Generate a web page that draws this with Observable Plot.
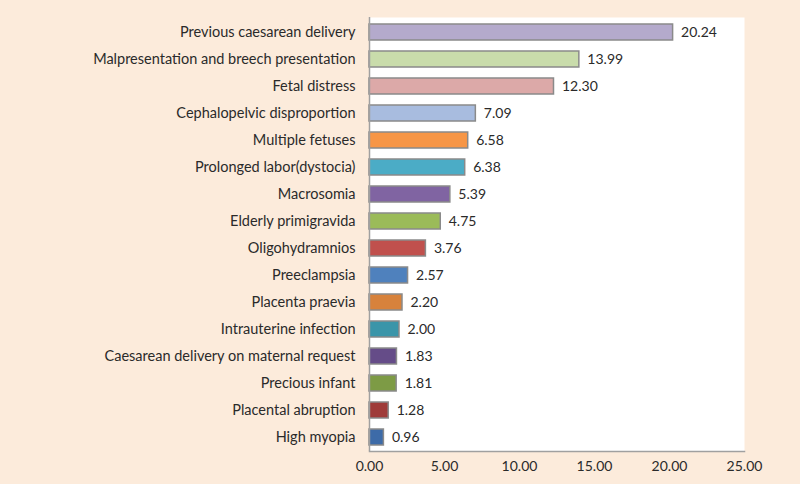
<!DOCTYPE html>
<html>
<head>
<meta charset="utf-8">
<script src="https://cdn.jsdelivr.net/npm/d3@7"></script>
<script src="https://cdn.jsdelivr.net/npm/@observablehq/plot@0.6"></script>
<style>
  html, body { margin: 0; padding: 0; background: #FCEBDB; }
  #chart svg { display: block; }
</style>
</head>
<body>
<div id="chart"></div>
<script>
const categories = [
  "Previous caesarean delivery",
  "Malpresentation and breech presentation",
  "Fetal distress",
  "Cephalopelvic disproportion",
  "Multiple fetuses",
  "Prolonged labor(dystocia)",
  "Macrosomia",
  "Elderly primigravida",
  "Oligohydramnios",
  "Preeclampsia",
  "Placenta praevia",
  "Intrauterine infection",
  "Caesarean delivery on maternal request",
  "Precious infant",
  "Placental abruption",
  "High myopia"
];
const values = [20.24, 13.99, 12.30, 7.09, 6.58, 6.38, 5.39, 4.75, 3.76, 2.57, 2.20, 2.00, 1.83, 1.81, 1.28, 0.96];
const colors = [
  "#B4AACC", "#C9DCAB", "#DCA9A8", "#A8BCDF", "#F79646", "#4BACC6", "#8064A2", "#9BBB59",
  "#C0504D", "#4F81BD", "#D7823C", "#3A95A9", "#654C88", "#7D9B45", "#9F3B39", "#3D6BA8"
];
const xTicks = [0, 5, 10, 15, 20, 25];

const data = categories.map((c, i) => ({category: c, value: values[i]}));

const chart = Plot.plot({
  width: 800,
  height: 484,
  marginLeft: 369,
  marginRight: 56,
  marginTop: 17,
  marginBottom: 33,
  style: {background: "#FCEBDB", fontFamily: "Lato, sans-serif", fontSize: "14px", color: "#2a2a2a"},
  x: {domain: [0, 25], ticks: xTicks, tickFormat: d => d.toFixed(2), tickSize: 0, tickPadding: 10, label: null},
  y: {domain: categories, paddingInner: 0.41, paddingOuter: 0.02, tickSize: 0, tickPadding: 14, label: null},
  color: {domain: categories, range: colors},
  marks: [
    Plot.frame({fill: "white", stroke: "none"}),
    Plot.barX(data, {x: "value", y: "category", fill: "category", stroke: "#8a8a8a", strokeWidth: 1.5}),
    Plot.text(data, {x: "value", y: "category", text: d => d.value.toFixed(2), textAnchor: "start", dx: 8, fontSize: 14, fill: "#2a2a2a"}),
    Plot.ruleX([0], {stroke: "#a0a0a0", strokeWidth: 1.5}),
    Plot.frame({anchor: "bottom", stroke: "#a0a0a0", strokeWidth: 1.5}),
    Plot.axisY({tickSize: 0, tickPadding: 14, fontSize: 14.5, label: null})
  ]
});
document.getElementById("chart").appendChild(chart);
</script>
</body>
</html>
